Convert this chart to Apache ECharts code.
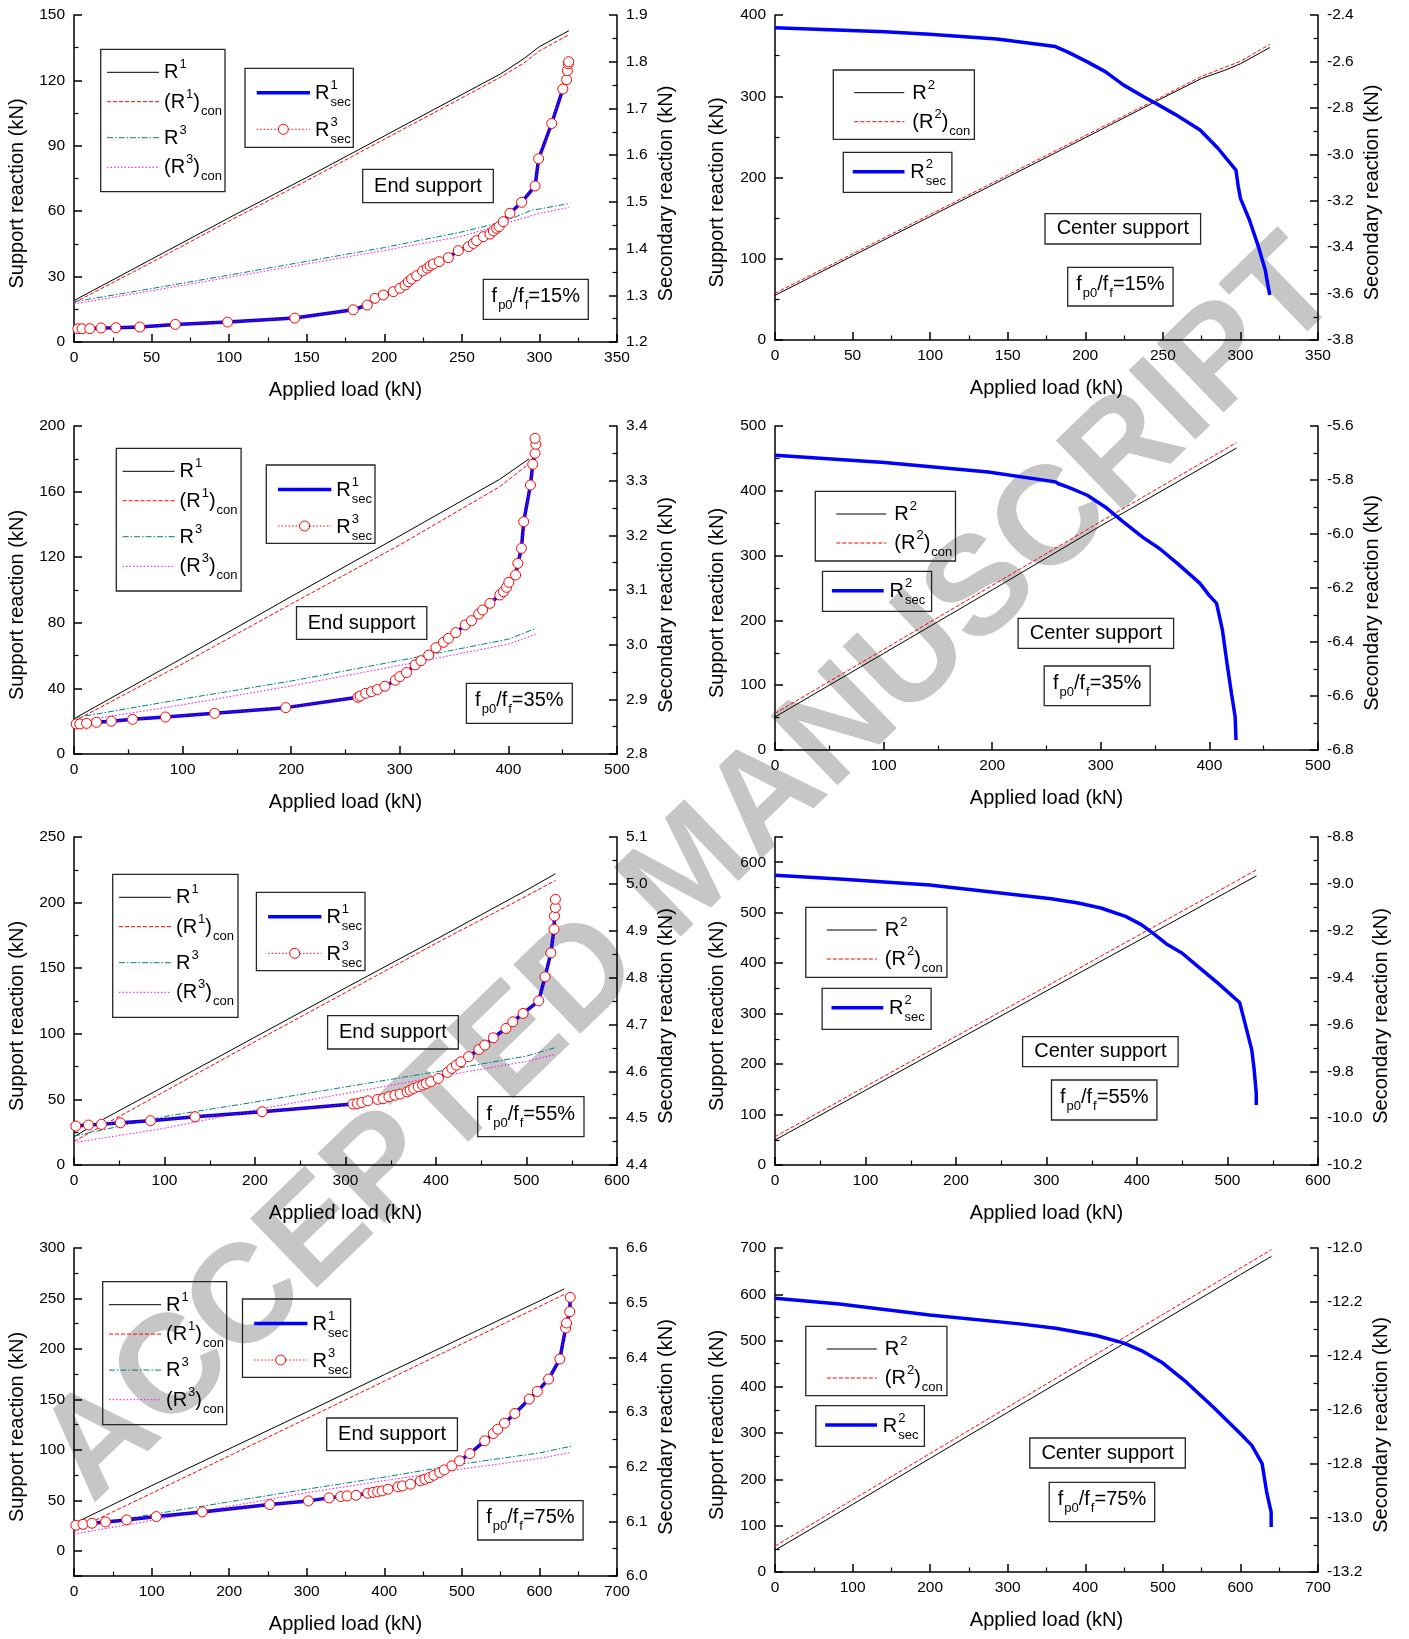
<!DOCTYPE html>
<html>
<head>
<meta charset="utf-8">
<script src="https://cdn.jsdelivr.net/npm/echarts@6/dist/echarts.min.js"></script>
<style>
html,body{margin:0;padding:0;background:#fff;}
#chart{width:1409px;height:1639px;}
</style>
</head>
<body>
<div id="chart"></div>
<script>
// ---------- End support, fp0/ff = 15% ----------
const end15_R1 = [[0,19],[50,38],[100,57],[150,75.5],[200,94.5],[250,113.5],[275,123],[290,130],[300,135.5],[319,142.8]];
const end15_R1con = [[0,18],[50,36.5],[100,55.5],[150,74],[200,93],[250,112],[275,121.5],[290,128],[300,133.5],[319,141]];
const end15_R3 = [[0,18.5],[50,24.5],[100,30.7],[150,37],[200,43.3],[250,50.5],[270,54],[285,57.5],[295,60.5],[300,61],[319,63.5]];
const end15_R3con = [[0,17.5],[50,23.5],[100,29.7],[150,35.8],[200,42],[250,48.5],[280,54.8],[300,59],[319,61.7]];
const end15_sec = [[2.5,1.2284],[5.2,1.2284],[10.2,1.2286],[17.4,1.230],[27,1.2306],[42.4,1.232],[65.3,1.2377],[99,1.2426],[142.3,1.2512],[180,1.269],[189,1.279],[194,1.2935],[199.4,1.3006],[205.8,1.3077],[210.1,1.315],[213.4,1.322],[215.5,1.329],[217.6,1.335],[220.9,1.342],[224.7,1.352],[227.7,1.358],[229.5,1.363],[231.6,1.367],[235.4,1.372],[241.3,1.3805],[247.7,1.3955],[254.2,1.404],[257.4,1.411],[259.5,1.417],[263.8,1.4255],[268.1,1.431],[270.3,1.4377],[272.4,1.4435],[274,1.447],[276.7,1.4576],[281,1.4756],[288.5,1.499],[297.2,1.534],[299.5,1.5923],[307.9,1.6677],[315.1,1.7416],[317.5,1.7615],[318,1.781],[318.6,1.7956],[318.9,1.80]];

// ---------- Center support, fp0/ff = 15% ----------
const ctr15_R2 = [[0,55],[50,103.5],[100,152],[150,200.5],[200,249],[250,298],[275,322],[290,332],[300,340],[319,360]];
const ctr15_R2con = [[0,57.5],[50,106],[100,154.5],[150,203],[200,251.5],[250,300],[275,324.5],[300,343],[319,364]];
const ctr15_sec = [[0,-2.4545],[70.6,-2.4717],[99.6,-2.483],[143,-2.503],[180.8,-2.536],[189.5,-2.562],[201,-2.601],[212.9,-2.644],[224.5,-2.701],[237.6,-2.752],[244.8,-2.778],[257.9,-2.828],[274,-2.895],[285.5,-2.974],[297.1,-3.068],[298.6,-3.139],[300,-3.190],[305.8,-3.283],[311.6,-3.398],[316,-3.498],[317.5,-3.556],[318.9,-3.606]];

// ---------- End support, fp0/ff = 35% ----------
const end35_R1 = [[0,21.5],[100,58.5],[200,96],[300,133],[392,167.5],[419,180]];
const end35_R1con = [[0,20],[100,55],[200,91.5],[300,127.5],[392,163],[419,177]];
const end35_R3 = [[0,22],[100,33.5],[200,44.5],[300,57],[400,70],[425,76.5]];
const end35_R3con = [[0,19.5],[100,30],[200,41.5],[300,54],[400,67],[425,73]];
const end35_sec = [[2,2.855],[5.4,2.855],[11.6,2.856],[20.7,2.858],[34.4,2.86],[53.9,2.8634],[84.2,2.8677],[129.5,2.8744],[195,2.8848],[261.4,2.9037],[263.5,2.906],[268.5,2.911],[273.9,2.914],[279.3,2.918],[286.3,2.924],[295.9,2.935],[300,2.9415],[306.2,2.949],[314.1,2.963],[319.5,2.9707],[326.6,2.981],[333.2,2.9945],[340.2,3.0043],[344.8,3.0116],[351.5,3.022],[360.2,3.036],[366,3.0439],[372.6,3.056],[376.3,3.0634],[383,3.0756],[392.1,3.0909],[395.4,3.097],[398.3,3.1049],[400.4,3.114],[406.6,3.1274],[408.7,3.1488],[412,3.1762],[414.1,3.225],[420.3,3.292],[422.4,3.33],[424.5,3.35],[425.3,3.3665],[424.5,3.3774]];

// ---------- Center support, fp0/ff = 35% ----------
const ctr35_R2 = [[0,51],[100,149],[200,247],[300,346],[400,442],[425,466]];
const ctr35_R2con = [[0,56.5],[100,155],[200,254],[300,352.5],[400,450],[425,474.5]];
const ctr35_sec = [[0,-5.7085],[100.8,-5.7356],[196.3,-5.770],[258.5,-5.807],[260.5,-5.813],[271,-5.828],[287.6,-5.8565],[304,-5.8997],[320.7,-5.955],[339.4,-6.0144],[354,-6.0538],[370.5,-6.109],[391.3,-6.183],[399.6,-6.2265],[406.6,-6.257],[412,-6.356],[416.2,-6.479],[420.3,-6.59],[423.7,-6.677],[424.5,-6.763]];

// ---------- End support, fp0/ff = 55% ----------
const end55_R1 = [[0,21.5],[30,34],[100,60],[200,97.5],[300,135],[400,172],[500,209.5],[532,222]];
const end55_R1con = [[0,18],[100,56],[200,94],[300,131.5],[400,169],[500,205],[532,217]];
const end55_R3 = [[0,22],[100,37],[200,48],[300,59.5],[400,71],[500,83],[532,89.5]];
const end55_R3con = [[0,17],[100,28],[200,42],[300,54.5],[400,67],[500,79],[532,84.3]];
const end55_sec = [[2,4.4832],[15.9,4.4853],[30.3,4.4867],[51.2,4.490],[84.5,4.4945],[133.7,4.503],[207.8,4.5137],[308.2,4.530],[313,4.531],[318.1,4.5335],[324.6,4.537],[335.5,4.540],[341.5,4.5415],[348,4.5457],[354.5,4.549],[360.4,4.5514],[368,4.556],[371.5,4.5595],[375.3,4.5635],[380.3,4.567],[385.2,4.5706],[389.2,4.574],[394.2,4.5777],[402.6,4.5848],[412.6,4.5976],[417.5,4.6061],[422.5,4.6132],[427.5,4.6203],[436,4.631],[447.4,4.6466],[453.9,4.6559],[463.3,4.6715],[477.3,4.6914],[484.8,4.7056],[496.2,4.7234],[513.5,4.7504],[520.5,4.8016],[526.9,4.8527],[530.4,4.9032],[530.9,4.9316],[531.9,4.9494],[531.9,4.9671]];

// ---------- Center support, fp0/ff = 55% ----------
const ctr55_R2 = [[0,49.5],[100,148],[200,246.5],[300,345],[400,443],[500,541.5],[532,573]];
const ctr55_R2con = [[0,56],[100,155.5],[200,255],[300,354],[400,453.5],[500,553],[532,585]];
const ctr55_sec = [[0,-8.9635],[71.2,-8.979],[170.8,-9.005],[305.2,-9.0632],[335,-9.082],[360,-9.103],[387.4,-9.139],[404.8,-9.174],[419.7,-9.217],[432.2,-9.2556],[449.6,-9.295],[469.5,-9.3595],[489.4,-9.4236],[513.4,-9.5063],[519.3,-9.5946],[526.8,-9.7085],[529.3,-9.787],[531.8,-9.894],[531.8,-9.944]];

// ---------- End support, fp0/ff = 75% ----------
const end75_R1 = [[0,27],[100,64.5],[200,101],[300,137.5],[400,174.5],[500,211],[600,247.5],[632,259.5]];
const end75_R1con = [[0,20],[100,57],[200,94],[300,131],[400,168],[500,205],[600,242],[632,254]];
const end75_R3 = [[0,23],[100,36],[200,48.5],[300,61],[400,73],[500,86],[600,97],[641,103.5]];
const end75_R3con = [[0,16.5],[100,30],[200,44],[300,57.5],[400,69.5],[500,81],[600,91.5],[641,97.5]];
const end75_sec = [[2.5,6.0928],[11.6,6.0946],[23.2,6.0965],[40.6,6.0989],[67.9,6.1026],[106.1,6.1087],[165.3,6.1172],[252.3,6.1306],[302.2,6.1374],[328.8,6.1429],[343.9,6.1453],[352,6.1465],[363.6,6.1477],[378.7,6.1514],[385.5,6.153],[391.5,6.1545],[397.3,6.1557],[404.8,6.1587],[417.6,6.163],[423.4,6.1648],[433.8,6.1679],[446.6,6.174],[452.4,6.177],[458.2,6.180],[464,6.1844],[471.5,6.1893],[477.3,6.1941],[487.2,6.2015],[497,6.2106],[510.4,6.224],[529.5,6.2473],[540.5,6.2607],[546.3,6.2686],[555,6.2796],[568.3,6.2973],[586.9,6.3236],[597.3,6.3376],[611.8,6.3602],[626.3,6.3968],[633.8,6.4536],[635,6.4628],[639.1,6.4835],[639.7,6.5098]];

// ---------- Center support, fp0/ff = 75% ----------
const ctr75_R2 = [[0,47],[100,146],[200,245.5],[300,345],[400,444],[500,543],[600,642.5],[640,682]];
const ctr75_R2con = [[0,56],[100,156],[200,256],[300,356],[400,456.5],[500,556.5],[600,656.5],[640,696.5]];
const ctr75_sec = [[0,-12.1862],[83,-12.207],[199.3,-12.248],[315.4,-12.281],[361.9,-12.297],[414.2,-12.324],[449,-12.3515],[472.3,-12.38],[498.4,-12.423],[530.4,-12.497],[565.2,-12.5895],[600.1,-12.688],[614.6,-12.731],[628,-12.799],[633.8,-12.904],[639.6,-12.978],[639.6,-13.0335]];

// ---------- Axis ranges and panel texts ----------
const ratioLabels = ['15%', '35%', '55%', '75%'];
const loadMax = [350, 500, 600, 700];
const loadStep = [50, 100, 100, 100];
const endLeftAxis = [[0,150,30],[0,200,40],[0,250,50],[-25,300,null]];
const endRightAxis = [[1.2,1.9,0.1],[2.8,3.4,0.1],[4.4,5.1,0.1],[6.0,6.6,0.1]];
const ctrLeftAxis = [[0,400,100],[0,500,100],[0,650,100],[0,700,100]];
const ctrRightAxis = [[-3.8,-2.4,0.2],[-6.8,-5.6,0.2],[-10.2,-8.8,0.2],[-13.2,-12.0,0.2]];

const endData = [
  {R1:end15_R1, R1con:end15_R1con, R3:end15_R3, R3con:end15_R3con, sec:end15_sec},
  {R1:end35_R1, R1con:end35_R1con, R3:end35_R3, R3con:end35_R3con, sec:end35_sec},
  {R1:end55_R1, R1con:end55_R1con, R3:end55_R3, R3con:end55_R3con, sec:end55_sec},
  {R1:end75_R1, R1con:end75_R1con, R3:end75_R3, R3con:end75_R3con, sec:end75_sec}
];
const ctrData = [
  {R2:ctr15_R2, R2con:ctr15_R2con, sec:ctr15_sec},
  {R2:ctr35_R2, R2con:ctr35_R2con, sec:ctr35_sec},
  {R2:ctr55_R2, R2con:ctr55_R2con, sec:ctr55_sec},
  {R2:ctr75_R2, R2con:ctr75_R2con, sec:ctr75_sec}
];

// ---------- Layout (pixels) ----------
const FONT = '"Liberation Sans", Arial, Helvetica, sans-serif';
const endGrids = [
  {left:74, top:15, width:543, height:327},
  {left:74, top:426, width:543, height:328},
  {left:74, top:837, width:543, height:328},
  {left:74, top:1248, width:543, height:328}
];
const ctrGrids = [
  {left:775, top:15, width:543, height:325},
  {left:775, top:426, width:543, height:324},
  {left:775, top:837, width:543, height:328},
  {left:775, top:1248, width:543, height:324}
];
const ctrRightNameGap = [44, 44, 53, 53];
// boxes: [x, y, w, h]
const endBoxes = [
  {legA:[100.7,49.3,124.3,142.4], legB:[245,68.3,108.3,79], title:[362.7,169.3,130.6,33.4], ratio:[483.3,279.3,105,40]},
  {legA:[116.3,448.3,124.8,142.7], legB:[266.3,465,108.7,78.3], title:[296.5,606.7,130.3,32.6], ratio:[466.4,683.3,105.9,40]},
  {legA:[112.7,874.3,125.3,143], legB:[256.4,892.3,108.6,78.4], title:[327.6,1015.7,130.7,33.3], ratio:[477.7,1096.7,106.3,40]},
  {legA:[102.7,1281.7,124,143], legB:[242.5,1299,108.1,78.3], title:[326.7,1418,130.7,32.7], ratio:[477.7,1500.7,105.4,39.3]}
];
const ctrBoxes = [
  {legA:[833.3,70,141.1,69.3], legB:[843.3,152.3,108.6,40], title:[1045,213.7,155.6,30.3], ratio:[1067.7,267.3,105.4,38.7]},
  {legA:[815.3,491.3,140.2,69.7], legB:[822.5,571.3,109.1,40], title:[1018.1,618.3,155.5,30], ratio:[1044.2,666,105.9,39.7]},
  {legA:[805.8,907.3,141.1,70], legB:[822.1,988.3,109,41], title:[1022.6,1036.7,155.5,30], ratio:[1051.5,1080,105.4,40]},
  {legA:[805.8,1326.3,141.1,69.4], legB:[815.8,1405.7,108.6,40.6], title:[1029.8,1438,155.5,30], ratio:[1049.2,1482.3,105.5,39.4]}
];

// ---------- Line styles ----------
const ST = {
  black:  {color:'#000000', width:1, type:'solid'},
  red:    {color:'#ff0000', width:1, type:[4,2]},
  teal:   {color:'#008080', width:1, type:[6,2,1.5,2]},
  mag:    {color:'#ff00ff', width:1, type:[1.5,2]},
  blue:   {color:'#0000ff', width:3.5, type:'solid'},
  redDot: {color:'#ff0000', width:1, type:[1.5,2]}
};

// ---------- Axes ----------
const AX_LINE = {show:true, onZero:false, lineStyle:{color:'#000', width:1.5}};
const AX_TICK = {show:true, inside:true, length:8, lineStyle:{color:'#000', width:1.5}};
const AX_MINOR = {show:true, splitNumber:2, length:4.5, lineStyle:{color:'#000', width:1.2}};
const NAME_STYLE = {fontSize:20, fontFamily:FONT, color:'#000'};
// vertical titles sit a bit below the middle of their axis
const VNAME_STYLE = {fontSize:20, fontFamily:FONT, color:'#000', padding:[0, 30, 0, 0]};
const LABEL = (extra) => Object.assign({fontSize:15.5, fontFamily:FONT, color:'#000', margin:9}, extra || {});

const grids = [], xAxes = [], yAxes = [], series = [];

function addPanel(grid, xMax, xStep, left, right, rightGap) {
  const gi = grids.length;
  grids.push(Object.assign({outerBoundsMode:'none', containLabel:false}, grid));
  xAxes.push({type:'value', gridIndex:gi, min:0, max:xMax, interval:xStep,
    name:'Applied load (kN)', nameLocation:'middle', nameGap:38, nameTextStyle:NAME_STYLE,
    axisLine:AX_LINE, axisTick:AX_TICK, minorTick:AX_MINOR, splitLine:{show:false},
    axisLabel:LABEL({margin:8})});
  const yl = {type:'value', gridIndex:gi, position:'left', min:left[0], max:left[1],
    name:'Support reaction (kN)', nameLocation:'middle', nameRotate:90, nameGap:47, nameTextStyle:VNAME_STYLE,
    axisLine:AX_LINE, axisTick:AX_TICK, minorTick:AX_MINOR, splitLine:{show:false},
    axisLabel:LABEL({showMinLabel: left[0] >= 0, showMaxLabel: left[1] % 100 !== 50 || left[1] <= 250})};
  if (left[2] != null) yl.interval = left[2]; else yl.splitNumber = 6;
  const yr = {type:'value', gridIndex:gi, position:'right', min:right[0], max:right[1], interval:right[2],
    name:'Secondary reaction (kN)', nameLocation:'middle', nameRotate:90, nameGap:rightGap, nameTextStyle:VNAME_STYLE,
    axisLine:AX_LINE, axisTick:AX_TICK, minorTick:AX_MINOR, splitLine:{show:false},
    axisLabel:LABEL({formatter:(v) => Number(v).toFixed(1)})};
  const yi = yAxes.length;
  yAxes.push(yl, yr);
  return {gi, yl: yi, yr: yi + 1};
}

function lineSeries(ix, data, st, z) {
  return {type:'line', xAxisIndex:ix.gi, yAxisIndex:ix.yl, data, showSymbol:false, symbol:'none',
    lineStyle:{color:st.color, width:st.width, type:st.type}, itemStyle:{color:st.color},
    z:z || 3, silent:true, animation:false, clip:true};
}

for (let k = 0; k < 4; k++) {
  // End support panel
  const e = addPanel(endGrids[k], loadMax[k], loadStep[k], endLeftAxis[k], endRightAxis[k], 39);
  const d = endData[k];
  series.push(lineSeries(e, d.R1, ST.black));
  series.push(lineSeries(e, d.R1con, ST.red));
  series.push(lineSeries(e, d.R3, ST.teal));
  series.push(lineSeries(e, d.R3con, ST.mag));
  const blue = lineSeries(e, d.sec, ST.blue, 4); blue.yAxisIndex = e.yr;
  series.push(blue);
  series.push({type:'line', xAxisIndex:e.gi, yAxisIndex:e.yr, data:d.sec, symbol:'circle', symbolSize:10,
    showSymbol:true, showAllSymbol:true,
    lineStyle:{color:'#ff0000', width:1, type:ST.redDot.type},
    itemStyle:{color:'#ffffff', borderColor:'#ff0000', borderWidth:1},
    z:5, silent:true, animation:false});

  // Center support panel
  const c = addPanel(ctrGrids[k], loadMax[k], loadStep[k], ctrLeftAxis[k], ctrRightAxis[k], ctrRightNameGap[k]);
  const cd = ctrData[k];
  series.push(lineSeries(c, cd.R2, ST.black));
  series.push(lineSeries(c, cd.R2con, ST.red));
  const cb = lineSeries(c, cd.sec, ST.blue, 4); cb.yAxisIndex = c.yr;
  series.push(cb);
}

// Right column left-axis titles sit a little further from the axis
yAxes.forEach((a) => { if (a.position === 'left' && grids[a.gridIndex].left > 400) a.nameGap = 48; });

// ---------- Boxes, legends and annotations ----------
const gfx = [];
const mctx = document.createElement('canvas').getContext('2d');
function measure(s, size) { mctx.font = size + 'px ' + FONT; return mctx.measureText(s).width; }
function addText(s, x, y, size, align) {
  gfx.push({type:'text', x, y, z:30, silent:true,
    style:{text:s, fontSize:size, fontFamily:FONT, fill:'#000', align:align || 'left', verticalAlign:'middle'}});
}
function addLine(x1, y1, x2, y2, st) {
  gfx.push({type:'line', z:30, silent:true, shape:{x1, y1, x2, y2},
    style:{stroke:st.color, lineWidth:st.width, lineDash:Array.isArray(st.type) ? st.type : null}});
}
function addBox(r) {
  gfx.push({type:'rect', z:29, silent:true, shape:{x:r[0], y:r[1], width:r[2], height:r[3]},
    style:{fill:'none', stroke:'#262626', lineWidth:1.3}});
}
const MAIN = 20, SMALL = 13;
function mathWidth(tokens) {
  let w = 0;
  for (const t of tokens) {
    if (t[0] === 'n') w += measure(t[1], MAIN);
    else if (t[0] === 'ss') w += Math.max(measure(t[1], SMALL), measure(t[2], SMALL)) + 1;
    else w += measure(t[1], SMALL) + 1;
  }
  return w;
}
function addMath(tokens, x, cy) {
  let cx = x;
  for (const t of tokens) {
    if (t[0] === 'n') { addText(t[1], cx, cy, MAIN); cx += measure(t[1], MAIN); }
    else if (t[0] === 'sup') { addText(t[1], cx + 1, cy - 8, SMALL); cx += measure(t[1], SMALL) + 1; }
    else if (t[0] === 'sub') { addText(t[1], cx + 1, cy + 9, SMALL); cx += measure(t[1], SMALL) + 1; }
    else if (t[0] === 'ss') {
      addText(t[1], cx + 1, cy - 8, SMALL); addText(t[2], cx + 1, cy + 9, SMALL);
      cx += Math.max(measure(t[1], SMALL), measure(t[2], SMALL)) + 1;
    }
  }
}
const lblR = (n) => [['n','R'],['sup',n]];
const lblCon = (n) => [['n','(R'],['sup',n],['n',')'],['sub','con']];
const lblSec = (n) => [['n','R'],['ss',n,'sec']];
const lblRatio = (p) => [['n','f'],['sub','p0'],['n','/f'],['sub','f'],['n','=' + p]];

function addTitleBox(r, text) {
  addBox(r);
  addText(text, r[0] + r[2] / 2, r[1] + r[3] / 2, MAIN, 'center');
}
function addRatioBox(r, p) {
  addBox(r);
  const tk = lblRatio(p);
  const w = mathWidth(tk);
  addMath(tk, r[0] + (r[2] - w) / 2, r[1] + r[3] / 2 - 2.5);
}

for (let k = 0; k < 4; k++) {
  // End support legends
  const b = endBoxes[k];
  let [x, y] = b.legA;
  addBox(b.legA);
  const rowsA = [[23, ST.black, lblR('1')], [52.4, ST.red, lblCon('1')], [88.4, ST.teal, lblR('3')], [118, ST.mag, lblCon('3')]];
  rowsA.forEach(([dy, st, lb]) => { addLine(x + 6.3, y + dy, x + 58.3, y + dy, st); addMath(lb, x + 63.3, y + dy + 0.5); });
  [x, y] = b.legB;
  addBox(b.legB);
  addLine(x + 11.7, y + 24.4, x + 65, y + 24.4, ST.blue);
  addMath(lblSec('1'), x + 70, y + 24.4 + 1);
  addLine(x + 11.7, y + 61, x + 65, y + 61, ST.redDot);
  gfx.push({type:'circle', z:31, silent:true, shape:{cx:x + 38.3, cy:y + 61, r:5},
    style:{fill:'#fff', stroke:'#ff0000', lineWidth:1}});
  addMath(lblSec('3'), x + 70, y + 61 + 1);
  addTitleBox(b.title, 'End support');
  addRatioBox(b.ratio, ratioLabels[k]);

  // Center support legends
  const c = ctrBoxes[k];
  [x, y] = c.legA;
  addBox(c.legA);
  addLine(x + 21, y + 22.7, x + 71, y + 22.7, ST.black);
  addMath(lblR('2'), x + 79, y + 22.7 + 0.5);
  addLine(x + 21, y + 51.7, x + 71, y + 51.7, ST.red);
  addMath(lblCon('2'), x + 79, y + 51.7 + 0.5);
  [x, y] = c.legB;
  addBox(c.legB);
  addLine(x + 9.4, y + 19.4, x + 61.2, y + 19.4, ST.blue);
  addMath(lblSec('2'), x + 67, y + 19.4 + 1);
  addTitleBox(c.title, 'Center support');
  addRatioBox(c.ratio, ratioLabels[k]);
}

// Diagonal stamp across the page
gfx.push({type:'text', x:692, y:872, rotation:44 * Math.PI / 180, z:-10, silent:true,
  style:{text:'ACCEPTED MANUSCRIPT', fontSize:140, fontWeight:'bold', fontFamily:FONT,
    fill:'#c6c6c6', align:'center', verticalAlign:'middle'}});

const chart = echarts.init(document.getElementById('chart'), null, {renderer:'canvas'});
chart.setOption({
  animation:false,
  backgroundColor:'#ffffff',
  grid:grids,
  xAxis:xAxes,
  yAxis:yAxes,
  series:series,
  graphic:{elements:gfx}
});
</script>
</body>
</html>
